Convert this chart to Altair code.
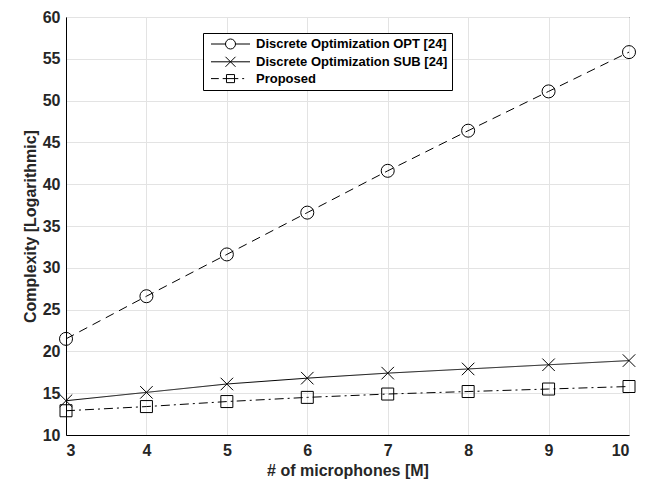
import altair as alt
import pandas as pd

mics = [3, 4, 5, 6, 7, 8, 9, 10]
opt = [21.5, 26.6, 31.6, 36.6, 41.6, 46.4, 51.1, 55.8]
sub = [14.1, 15.1, 16.1, 16.8, 17.4, 17.9, 18.4, 18.9]
prop = [12.9, 13.4, 14.0, 14.5, 14.9, 15.2, 15.5, 15.8]
series = ["Discrete Optimization OPT [24]", "Discrete Optimization SUB [24]", "Proposed"]

rows = []
for name, vals in zip(series, [opt, sub, prop]):
    for m, v in zip(mics, vals):
        rows.append({"M": m, "C": v, "series": name})
df = pd.DataFrame(rows)

FONT = "Liberation Sans"

x = alt.X("M:Q", scale=alt.Scale(domain=[3, 10], nice=False),
          axis=alt.Axis(values=mics, title="# of microphones [M]", format="d"))
y = alt.Y("C:Q", scale=alt.Scale(domain=[10, 60], nice=False),
          axis=alt.Axis(values=list(range(10, 61, 5)), title="Complexity [Logarithmic]"))

lines = alt.Chart(df).mark_line(color="black", strokeWidth=1).encode(
    x=x, y=y,
    detail="series:N",
    strokeDash=alt.StrokeDash("series:N", scale=alt.Scale(domain=series, range=[[9, 6], [1, 0], [9, 4, 2, 4]]), legend=None),
)

markers = alt.Chart(df).mark_point(filled=False, color="black", strokeWidth=1, opacity=1).encode(
    x=x, y=y,
    shape=alt.Shape("series:N", scale=alt.Scale(domain=series, range=["circle", "M-1,-1L1,1M-1,1L1,-1", "square"]), legend=None),
    size=alt.Size("series:N", scale=alt.Scale(domain=series, range=[169, 144, 110]), legend=None),
)

# legend symbols: scale unit = 6.5 px (symbolSize 169)
leg_paths = [
    "M-3,0L-0.77,0M0.77,0L3,0M0.77,0A0.77,0.77,0,1,1,-0.77,0A0.77,0.77,0,1,1,0.77,0",
    "M-3,0L3,0M-0.77,-0.77L0.77,0.77M-0.77,0.77L0.77,-0.77",
    "M-3,0L-1.8,0M-1.2,0L1.2,0M1.8,0L2.1,0M-0.62,-0.62L0.62,-0.62L0.62,0.62L-0.62,0.62Z",
]

legend_layer = alt.Chart(df).mark_point(filled=False, color="black", opacity=0).encode(
    x=x, y=y,
    shape=alt.Shape("series:N", scale=alt.Scale(domain=series, range=leg_paths),
                    legend=alt.Legend(title=None, orient="none", legendX=137, legendY=16,
                                      symbolSize=169, symbolOpacity=1, symbolStrokeColor="black",
                                      symbolFillColor="transparent", symbolStrokeWidth=1,
                                      symbolOffset=16.5,
                                      labelFont=FONT, labelFontSize=13, labelFontWeight="bold",
                                      labelColor="black", labelOffset=18.5, rowPadding=1.8,
                                      strokeColor="black", fillColor="white", padding=4,
                                      labelLimit=400)),
)

chart = alt.layer(lines, markers, legend_layer).resolve_scale(
    shape="independent", size="independent", strokeDash="independent"
).properties(
    width=563, height=418,
    padding={"left": 58, "top": 9, "right": 23, "bottom": 50},
    autosize=alt.AutoSizeParams(type="none"),
).configure_view(stroke="black", strokeWidth=1).configure_axis(
    labelFont=FONT, labelFontSize=16, labelFontWeight="bold", labelColor="#262626",
    titleFont=FONT, titleFontSize=16, titleFontWeight="bold", titleColor="#262626",
    gridColor="#e3e3e3", gridWidth=1, domainColor="black", ticks=False,
).configure_axisX(labelPadding=7, titlePadding=4).configure_axisY(labelPadding=6, titlePadding=4)

chart.save("out.html", embed_options={"renderer": "svg", "actions": False})
